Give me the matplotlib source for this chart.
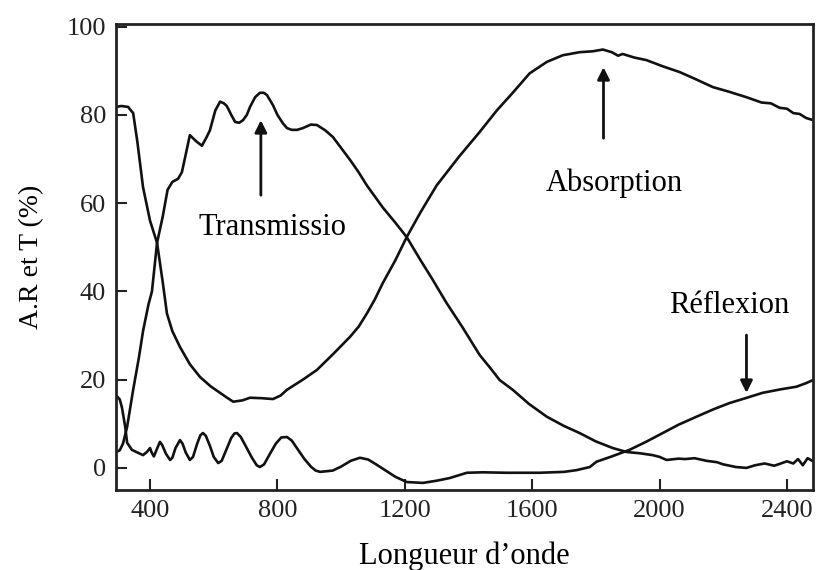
import matplotlib.pyplot as plt

# Transmission
wl_t = [293, 305, 315, 328, 347, 365, 378, 395, 406, 422, 440, 455, 470, 488, 500, 512, 525,
        545, 563, 578, 588, 605, 620, 632, 641, 655, 667, 680, 692, 704, 714, 730, 745, 757,
        767, 786, 800, 817, 830, 845, 862, 880, 905, 924, 950, 974, 1000, 1028, 1055, 1081,
        1106, 1131, 1170, 1206, 1250, 1288, 1330, 1380, 1435, 1470, 1498, 1539, 1590, 1646,
        1700, 1749, 1800, 1853, 1897, 1940, 1978, 2000, 2022, 2060, 2080, 2110, 2148, 2180,
        2200, 2240, 2273, 2300, 2330, 2360, 2377, 2400, 2420, 2435, 2450, 2465, 2482]
t_val = [3.6, 4.0, 5.5, 9.3, 17.7, 25, 31, 37, 40, 51, 57, 63, 64.8, 65.5, 67, 71, 75.4,
         74, 73, 75, 76.5, 81, 83, 82.6, 82, 80, 78.4, 78.2, 78.8, 80, 81.8, 84, 85, 85,
         84.5, 82.2, 80, 78.1, 77, 76.6, 76.6, 77, 77.8, 77.7, 76.5, 75, 72.5, 69.8, 67, 64,
         61.5, 59, 55.6, 52.3, 47, 42.6, 37.5, 32, 25.6, 22.5, 19.9, 17.7, 14.5, 11.6,
         9.5, 7.9, 6, 4.5, 3.6, 3.3, 2.9, 2.5, 1.8, 2.1, 2.0, 2.2, 1.6, 1.3,
         0.8, 0.2, 0.0, 0.6, 1.0, 0.5, 0.9, 1.5, 1.0, 2.0, 0.6, 2.2, 1.5]

# Absorption
wl_a = [293, 310, 331, 340, 347, 360, 378, 400, 422, 440, 453, 470, 494, 525, 557, 590, 620,
        640, 661, 690, 714, 750, 786, 810, 830, 880, 924, 975, 1028, 1055, 1081, 1106, 1131,
        1170, 1206, 1250, 1300, 1370, 1435, 1489, 1539, 1592, 1646, 1696, 1749, 1790, 1822,
        1850, 1870, 1884, 1920, 1959, 2010, 2063, 2110, 2167, 2220, 2273, 2320, 2350, 2377,
        2400, 2420, 2440, 2460, 2482]
a_val = [81.8, 82, 81.8, 81, 80.4, 74, 63.6, 56, 51, 42, 35, 31, 27.4, 23.5, 20.6, 18.5, 17,
         16, 15, 15.3, 15.9, 15.8, 15.6, 16.4, 17.7, 20, 22.2, 25.8, 29.7, 32, 35, 38.2, 41.9,
         47, 52.3, 58, 64, 70.5, 76.1, 81, 85, 89.4, 92, 93.5, 94.2, 94.4, 94.8,
         94.2, 93.4, 93.8, 93, 92.4, 91, 89.7, 88.2, 86.3, 85.2, 84, 82.8, 82.6, 81.6,
         81.4, 80.4, 80.2, 79.3, 78.8]

# Reflexion
wl_r = [293, 305, 312, 322, 328, 343, 360, 378, 390, 400, 405, 412, 420, 431, 438, 450, 463,
        470, 480, 494, 502, 512, 525, 535, 548, 558, 566, 575, 588, 600, 614, 625, 640, 655,
        665, 673, 685, 700, 720, 735, 745, 758, 775, 795, 812, 830, 845, 862, 885, 905, 920,
        934, 974, 1000, 1030, 1059, 1085, 1110, 1140, 1170, 1206, 1257, 1300, 1341, 1395,
        1445, 1520, 1624, 1700, 1740, 1781, 1802, 1850, 1906, 1960, 2010, 2060, 2116, 2170,
        2220, 2270, 2323, 2380, 2430, 2460, 2482]
r_val = [16.5, 15.5, 13.6, 9.3, 5.7, 4.1, 3.5, 2.9, 3.6, 4.5, 3.5, 2.6, 4.0, 5.9, 5.2, 3.2, 1.8,
         2.3, 4.5, 6.3, 5.5, 3.5, 1.8, 2.5, 5.5, 7.4, 7.9, 7.3, 5.0, 2.5, 1.1, 1.6, 4.2, 6.8,
         7.8, 7.9, 7.0, 5.0, 2.3, 0.6, 0.2, 0.8, 3.0, 5.5, 6.9, 7.0, 6.2, 4.4, 2.0, 0.3, -0.6,
         -0.9, -0.6, 0.3, 1.6, 2.3, 1.9, 0.8, -0.6, -2.0, -3.2, -3.4, -2.9, -2.3, -1.1,
         -1.0, -1.1, -1.1, -0.9, -0.5, 0.2, 1.4, 2.6, 4.1, 6.0, 7.9, 9.8, 11.6, 13.3,
         14.7, 15.8, 17.0, 17.8, 18.4, 19.2, 19.9]

x_ticks = [400, 800, 1200, 1600, 2000, 2400]
y_ticks = [0, 20, 40, 60, 80, 100]

plt.rcParams['font.family'] = ['Liberation Serif', 'DejaVu Serif']

fig = plt.figure(figsize=(8.19, 5.70), dpi=100)
ax = fig.add_axes([0.1416, 0.1404, 0.8511, 0.8176])

for x, y in [(wl_t, t_val), (wl_a, a_val), (wl_r, r_val)]:
    ax.plot(x, y, color='#111111', lw=1.9, solid_joinstyle='round')

ax.set_xlim(293, 2482)
ax.set_ylim(-5, 100.6)
ax.set_xticks(x_ticks)
ax.set_yticks(y_ticks)
ax.tick_params(direction='in', length=8, width=1.5, labelsize=19, colors='#222222', pad=7,
               top=False, right=False)
for s in ax.spines.values():
    s.set_linewidth(2)
    s.set_color('#222222')

ax.set_xlabel('Longueur d\u2019onde', fontsize=22, labelpad=14)
ax.set_ylabel('A.R et T (%)', fontsize=20, labelpad=16)

arrow = dict(arrowstyle='-|>', lw=2, color='#111111', mutation_scale=18, shrinkA=0, shrinkB=0)
ax.annotate('', xy=(748, 78.8), xytext=(748, 61.8), arrowprops=arrow)
ax.annotate('', xy=(1824, 90.8), xytext=(1824, 74.7), arrowprops=arrow)
ax.annotate('', xy=(2273, 17), xytext=(2273, 30.1), arrowprops=arrow)

ax.text(783, 54.4, 'Transmissio', fontsize=22, ha='center', va='center')
ax.text(1859, 64.6, 'Absorption', fontsize=22, ha='center', va='center')
ax.text(2220, 36.9, 'R\u00e9flexion', fontsize=22, ha='center', va='center')

plt.savefig('out.png', dpi=100)
